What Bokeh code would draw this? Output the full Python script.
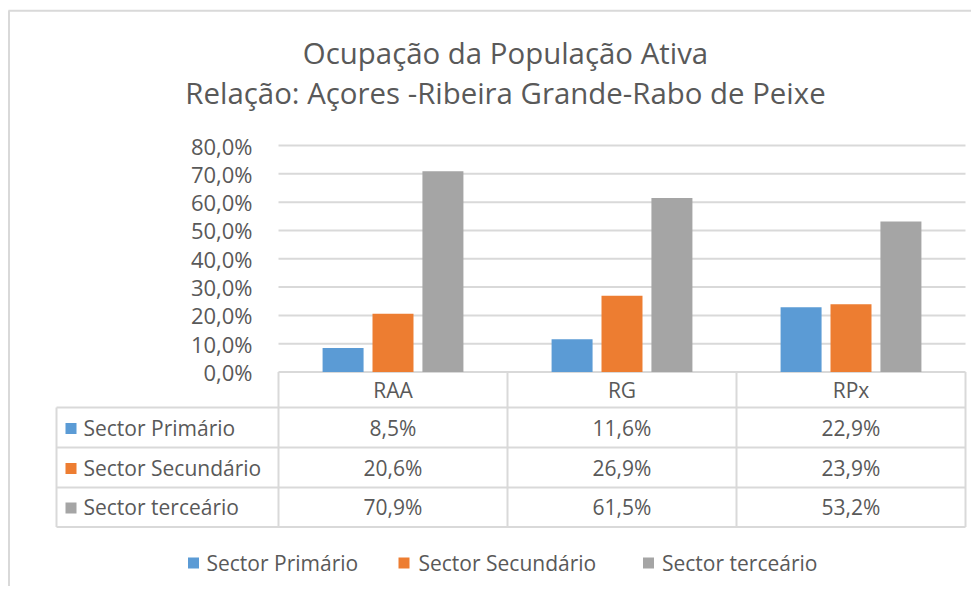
from bokeh.plotting import figure
from bokeh.models import Range1d
from bokeh.core.properties import value
from bokeh.embed import file_html
from bokeh.resources import INLINE

# ---------------- data ----------------
categories = ["RAA", "RG", "RPx"]
series_names = ["Sector Primário", "Sector Secundário", "Sector terceário"]
sector_primario = [8.5, 11.6, 22.9]
sector_secundario = [20.6, 26.9, 23.9]
sector_terceario = [70.9, 61.5, 53.2]
y_ticks = [0, 10, 20, 30, 40, 50, 60, 70, 80]
y_tick_labels = ["0,0%", "10,0%", "20,0%", "30,0%", "40,0%", "50,0%", "60,0%", "70,0%", "80,0%"]
title_lines = ["Ocupação da População Ativa", "Relação: Açores -Ribeira Grande-Rabo de Peixe"]

# ---------------- style ----------------
colors = ["#5B9BD5", "#ED7D31", "#A5A5A5"]
TEXT = "#595959"
LINE = "#D9D9D9"
FONT = "Open Sans"
series = [sector_primario, sector_secundario, sector_terceario]


def fmt(v):
    return f"{v:.1f}%".replace(".", ",")


# layout helpers: image pixel <-> data (one category per 229 px, RAA centre at 392.5 px;
# 2.831 px per percentage point, 0 % at 371.5 px)
X0, XS = 392.5, 229.0
PPP, ZERO_Y = 2.831, 371.5


def px_to_x(px):
    return (px - X0) / XS


def py_to_v(py):
    return (ZERO_Y - py) / PPP


W, H = 971, 586
p = figure(width=W, height=H,
           x_range=Range1d(px_to_x(0), px_to_x(W)),
           y_range=Range1d(py_to_v(H), py_to_v(0)),
           x_axis_location=None, y_axis_location=None, min_border=0,
           outline_line_color=None, toolbar_location=None, output_backend="svg")
p.extra_x_ranges = {"px": Range1d(0, W)}
p.extra_y_ranges = {"px": Range1d(H, 0)}
p.grid.visible = False

# ---------------- chart area ----------------
n = len(categories)
# horizontal gridlines
p.segment(x0=[-0.5] * len(y_ticks), x1=[n - 0.5] * len(y_ticks), y0=y_ticks, y1=y_ticks,
          line_color=LINE, line_width=2)
# y tick labels
p.text(x=[252] * len(y_ticks), y=y_ticks, text=y_tick_labels, x_range_name="px",
       text_align="right", text_baseline="middle", text_font=value(FONT),
       text_font_size="22px", text_color=TEXT)

offsets = [-0.218, 0.0, 0.218]
for j, vals in enumerate(series):
    p.vbar(x=[i + offsets[j] for i in range(n)], top=vals, bottom=0, width=0.179,
           fill_color=colors[j], line_color=None)

# title
for txt, py in zip(title_lines, [52, 92]):
    p.text(x=[505], y=[py], text=[txt], x_range_name="px", y_range_name="px",
           text_align="center", text_baseline="middle", text_font=value(FONT),
           text_font_size="29.4px", text_color=TEXT)

# ---------------- data table ----------------
row_edges = [407, 447, 487, 526.5]
left_edge = 56
row_centres = [389.5, 427, 467, 506.5]

# horizontal table lines
p.segment(x0=[left_edge] * len(row_edges), x1=[965] * len(row_edges), y0=row_edges, y1=row_edges,
          x_range_name="px", y_range_name="px", line_color=LINE, line_width=2)
# vertical lines between the categories
col_edges = [i - 0.5 for i in range(n + 1)]
p.segment(x0=col_edges, x1=col_edges, y0=[ZERO_Y] * len(col_edges),
          y1=[row_edges[-1]] * len(col_edges), y_range_name="px", line_color=LINE, line_width=2)
p.segment(x0=[left_edge], x1=[left_edge], y0=[row_edges[0]], y1=[row_edges[-1]],
          x_range_name="px", y_range_name="px", line_color=LINE, line_width=2)

# header row
p.text(x=list(range(n)), y=[row_centres[0]] * n, text=categories, y_range_name="px",
       text_align="center", text_baseline="middle", text_font=value(FONT),
       text_font_size="21px", text_color=TEXT)

for j, name in enumerate(series_names):
    yc = row_centres[j + 1]
    p.scatter(x=[70.5], y=[yc + 1], x_range_name="px", y_range_name="px", marker="square",
              size=11, fill_color=colors[j], line_color=None)
    p.text(x=[83], y=[yc], text=[name], x_range_name="px", y_range_name="px",
           text_align="left", text_baseline="middle", text_font=value(FONT),
           text_font_size="21px", text_color=TEXT)
    p.text(x=list(range(n)), y=[yc] * n, text=[fmt(v) for v in series[j]], y_range_name="px",
           text_align="center", text_baseline="middle", text_font=value(FONT),
           text_font_size="21px", text_color=TEXT)

# ---------------- legend ----------------
leg_sq = [193, 403.5, 648]
leg_tx = [206, 418, 661.5]
leg_y = 562.5
for j, name in enumerate(series_names):
    p.scatter(x=[leg_sq[j]], y=[leg_y], x_range_name="px", y_range_name="px", marker="square",
              size=11, fill_color=colors[j], line_color=None)
    p.text(x=[leg_tx[j]], y=[leg_y], text=[name], x_range_name="px", y_range_name="px",
           text_align="left", text_baseline="middle", text_font=value(FONT),
           text_font_size="21px", text_color=TEXT)

# outer chart border (top and left)
p.segment(x0=[8, 8.5], x1=[W, 8.5], y0=[10.3, 10], y1=[10.3, H],
          x_range_name="px", y_range_name="px", line_color=LINE, line_width=2)

open("out.html", "w").write(file_html(p, INLINE))
